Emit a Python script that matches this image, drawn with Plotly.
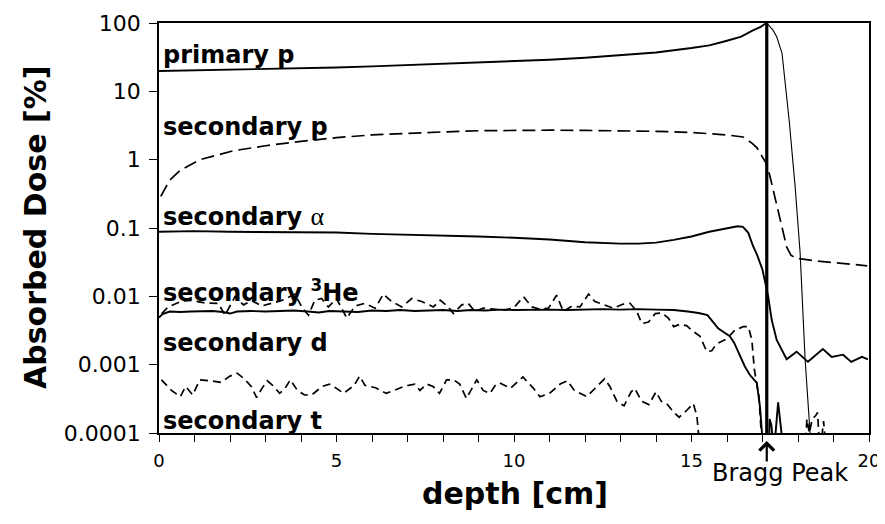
import math
import plotly.graph_objects as go

# ---------------- data ----------------
primary_x = [0.0, 0.5, 1, 2, 3, 4, 5, 6, 7, 8, 9, 10, 11, 12, 13, 14, 15, 15.5, 16.0, 16.4, 16.73, 16.95, 17.12]
primary_y = [19.8, 20.0, 20.2, 20.5, 21.0, 21.5, 22.3, 23.2, 24.2, 25.2, 26.3, 27.5, 29.0, 31.0, 33.5, 37.0, 43.0, 47.0, 55.0, 63.0, 78.0, 88.0, 100.0]
primary_fall_x = [17.12, 17.3, 17.4, 17.55, 17.75, 17.92, 18.06, 18.2, 18.34, 18.4]
primary_fall_y = [100.0, 78.0, 63.0, 36.0, 3.8, 0.4, 0.043, 0.0012, 0.0001, 0.00005]

sec_p_x = [0.05, 0.3, 0.6, 1.15, 2.1, 3.0, 4.0, 5.0, 6.0, 7.0, 8.0, 9.0, 10.0, 11.0, 12.0, 13.0, 14.0, 15.0,
           15.5, 16.0, 16.45, 16.7, 16.84, 17.0, 17.1, 17.2, 17.3, 17.4, 17.5, 17.6, 17.68, 17.8, 17.96,
           18.5, 19.0, 19.5, 19.95]
sec_p_y = [0.29, 0.5, 0.7, 1.0, 1.35, 1.6, 1.85, 2.1, 2.3, 2.45, 2.55, 2.65, 2.7, 2.7, 2.68, 2.65, 2.6, 2.5,
           2.42, 2.3, 2.15, 1.75, 1.5, 1.1, 0.89, 0.6, 0.36, 0.2, 0.13, 0.08, 0.053, 0.04, 0.036,
           0.033, 0.031, 0.029, 0.028]

alpha_x = [0.0, 1, 2, 3, 4, 5, 6, 7, 8, 9, 10, 11, 12, 12.5, 13, 13.5, 14, 14.5, 15, 15.5, 16.0, 16.3,
           16.45, 16.6, 16.73, 16.85, 17.0, 17.16, 17.26, 17.4, 17.68, 17.96, 18.28, 18.7, 18.95, 19.27,
           19.5, 19.8, 19.97]
alpha_y = [0.088, 0.09, 0.088, 0.087, 0.085, 0.086, 0.082, 0.08, 0.078, 0.075, 0.072, 0.068, 0.062, 0.06,
           0.059, 0.059, 0.061, 0.067, 0.075, 0.088, 0.1, 0.106, 0.104, 0.085, 0.055, 0.04, 0.0245, 0.01,
           0.0045, 0.0023, 0.0012, 0.00155, 0.0011, 0.0017, 0.0013, 0.0014, 0.0011, 0.0013, 0.0012]

he3_x = [0.075, 0.26, 0.64, 0.92, 1.3, 1.67, 1.86, 2.14, 2.38, 2.61, 2.89, 3.17, 3.46, 3.83, 4.02, 4.21,
         4.39, 4.58, 4.77, 5.0, 5.29, 5.52, 5.8, 6.09, 6.32, 6.55, 6.84, 7.12, 7.4, 7.73, 7.92, 8.15,
         8.29, 8.53, 8.71, 8.9, 9.13, 9.42, 9.7, 9.98, 10.27, 10.5, 10.73, 10.97, 11.2, 11.39, 11.63,
         11.86, 12.1, 12.28, 12.52, 12.8, 13.08, 13.27, 13.46, 13.6, 13.79, 13.98, 14.17, 14.35, 14.5,
         14.68, 14.87, 15.0, 15.24, 15.43, 15.57, 15.7, 16.0, 16.22, 16.46, 16.6, 16.7, 16.77, 16.9,
         16.98, 17.0, None, 18.2, 18.25, 18.32, 18.4, 18.5, 18.55, 18.62, 18.72, 18.8]
he3_y = [0.0056, 0.007, 0.0085, 0.0087, 0.008, 0.0079, 0.0053, 0.0099, 0.0075, 0.0087, 0.0072, 0.0079,
         0.0087, 0.0108, 0.007, 0.0053, 0.0088, 0.0093, 0.007, 0.0093, 0.0048, 0.0072, 0.0079, 0.0067,
         0.0108, 0.0084, 0.007, 0.0093, 0.0084, 0.007, 0.0088, 0.007, 0.0056, 0.0075, 0.0079, 0.006,
         0.0067, 0.0065, 0.0063, 0.0067, 0.0099, 0.007, 0.0065, 0.0067, 0.0104, 0.006, 0.0072, 0.007,
         0.0108, 0.0084, 0.0075, 0.0067, 0.0077, 0.0079, 0.006, 0.004, 0.0042, 0.0056, 0.0057, 0.0048,
         0.0036, 0.0039, 0.0037, 0.0032, 0.0026, 0.00155, 0.0016, 0.002, 0.0024, 0.0032, 0.0036, 0.0036,
         0.0023, 0.00085, 0.00034, 0.0001, 0.00005, None, 0.00005, 0.00016, 0.0001, 0.00016, 0.00018,
         0.0002, 0.00005, 0.00015, 0.00005]

d_x = [0.0, 0.1, 0.3, 0.6, 0.9, 1.2, 1.5, 1.8, 2.0, 2.2, 2.6, 3.0, 3.4, 3.8, 4.2, 4.5, 4.8, 5.2, 5.6, 6.0,
       6.4, 6.8, 7.2, 7.6, 8.0, 8.4, 8.8, 9.2, 9.6, 10.0, 10.5, 11.0, 11.5, 12.0, 12.5, 13.0, 13.5, 14.0,
       14.5, 14.9, 15.2, 15.45, 15.6, 15.75, 15.9, 16.08, 16.2, 16.37, 16.5, 16.65, 16.84, 16.93, 17.0,
       17.03, 17.18, 17.2, 17.25, 17.3, 17.32, 17.44, 17.6]
d_y = [0.0049, 0.0055, 0.006, 0.0059, 0.006, 0.006, 0.0061, 0.0059, 0.0056, 0.006, 0.0061, 0.006, 0.0061,
       0.0062, 0.006, 0.0058, 0.0061, 0.006, 0.0059, 0.0062, 0.0061, 0.0063, 0.0061, 0.0062, 0.0063,
       0.0061, 0.0063, 0.0062, 0.0064, 0.0063, 0.0064, 0.0064, 0.0063, 0.0064, 0.0065, 0.0064, 0.0065,
       0.0064, 0.0063, 0.006, 0.0057, 0.0053, 0.0042, 0.0034, 0.003, 0.0026, 0.0021, 0.0013, 0.00095,
       0.0007, 0.00054, 0.00024, 0.0001, 0.00005, 0.00005, 0.00016, 0.00013, 0.00005, 0.00005, 0.00028,
       0.00005]

t_x = [0.07, 0.35, 0.6, 0.75, 0.95, 1.15, 1.45, 1.75, 2.0, 2.2, 2.4, 2.6, 2.75, 2.9, 3.05, 3.2, 3.4, 3.55,
       3.7, 3.9, 4.1, 4.3, 4.6, 4.8, 5.0, 5.2, 5.5, 5.65, 5.8, 6.1, 6.4, 6.6, 6.9, 7.2, 7.35, 7.54, 7.72,
       7.9, 8.1, 8.3, 8.47, 8.66, 8.85, 8.95, 9.13, 9.32, 9.5, 9.6, 9.9, 10.25, 10.55, 10.73, 11.0, 11.3,
       11.5, 11.7, 12.05, 12.35, 12.55, 12.7, 12.9, 13.1, 13.3, 13.4, 13.6, 13.8, 14.0, 14.15, 14.3, 14.5,
       14.65, 14.85, 15.05, 15.15, 15.22, 15.25]
t_y = [0.0006, 0.00042, 0.00034, 0.00048, 0.00036, 0.0006, 0.00058, 0.00055, 0.00068, 0.00075, 0.00062,
       0.00048, 0.00033, 0.00045, 0.00058, 0.0005, 0.00038, 0.00045, 0.0006, 0.00042, 0.00036, 0.00036,
       0.00048, 0.00052, 0.00045, 0.00038, 0.0005, 0.00068, 0.0005, 0.00046, 0.00038, 0.00042, 0.00048,
       0.00052, 0.00042, 0.00052, 0.00048, 0.00038, 0.0006, 0.0006, 0.00052, 0.00032, 0.00048, 0.0006,
       0.00042, 0.00038, 0.00052, 0.00054, 0.00045, 0.00066, 0.00045, 0.00034, 0.00038, 0.00052,
       0.00058, 0.00042, 0.00034, 0.00048, 0.00062, 0.00048, 0.00029, 0.00025, 0.0004, 0.00045,
       0.00029, 0.00026, 0.0004, 0.00029, 0.00027, 0.0002, 0.00017, 0.00021, 0.00027, 0.00018, 0.00008,
       0.00005]

bragg_depth = 17.12
bragg_y = [100.0, 0.00005]

y_tickvals = [0.0001, 0.001, 0.01, 0.1, 1, 10, 100]
y_ticktext = ["0.0001", "0.001", "0.01", "0.1", "1", "10", "100"]
x_tickvals = [0, 5, 10, 15, 20]
x_ticktext = ["0", "5", "10", "15", "20"]

labels = ["primary p", "secondary p",
          'secondary <span style="font-family:Liberation Serif;font-weight:normal;font-size:26px">α</span>',
          "secondary <sup>3</sup>He", "secondary d", "secondary t"]
label_levels = [34.0, 3.0, 0.145, 0.012, 0.00208, 0.000152]

# ---------------- figure ----------------
# The page body has an 8px margin, so the figure is sized to fit the 885x524 window.
BOLD = "DejaVu Sans"
fig = go.Figure()

def line(x, y, width, dash="solid"):
    fig.add_trace(go.Scatter(x=x, y=y, mode="lines", connectgaps=False,
                             line=dict(color="black", width=width, dash=dash),
                             showlegend=False, hoverinfo="skip"))

line(primary_x, primary_y, 1.9)
line(primary_fall_x, primary_fall_y, 1.1)
line(sec_p_x, sec_p_y, 1.7, "13px,6px")
line(alpha_x, alpha_y, 1.9)
line(d_x, d_y, 1.9)
line(he3_x, he3_y, 1.7, "8px,5px")
line(t_x, t_y, 1.7, "8px,5px")
line([bragg_depth, bragg_depth], bragg_y, 3.2)

for txt, lvl in zip(labels, label_levels):
    fig.add_annotation(x=0, y=math.log10(lvl), xref="x", yref="y", xshift=2,
                       text=txt, showarrow=False, xanchor="left", yanchor="middle",
                       font=dict(family=BOLD, size=24, color="black", weight="bold"))

# Bragg peak arrow + label
fig.add_annotation(x=bragg_depth, y=0, xref="x", yref="paper", text="", showarrow=True,
                   axref="pixel", ayref="pixel", ax=0, ay=30, standoff=8,
                   arrowhead=4, arrowsize=1.3, arrowwidth=2.2, arrowcolor="black")
fig.add_annotation(x=(780 - 159) / 710, y=-0.097, xref="paper", yref="paper", text="Bragg Peak",
                   showarrow=False, xanchor="center", yanchor="middle",
                   font=dict(family="DejaVu Sans", size=24, color="black"))

# axis titles
fig.add_annotation(x=-0.175, y=0.502, xref="paper", yref="paper", text="Absorbed Dose [%]",
                   textangle=-90, showarrow=False, xanchor="center", yanchor="middle",
                   font=dict(family=BOLD, size=30, color="black", weight="bold"))
fig.add_annotation(x=0.501, y=-0.147, xref="paper", yref="paper", text="depth [cm]",
                   showarrow=False, xanchor="center", yanchor="middle",
                   font=dict(family=BOLD, size=30, color="black", weight="bold"))

fig.update_xaxes(range=[0, 20], tickvals=x_tickvals, ticktext=x_ticktext, automargin=False,
                 ticks="outside", ticklen=7, tickwidth=1.3, tickcolor="black",
                 minor=dict(dtick=1, ticks="outside", ticklen=7, tickwidth=1.3, tickcolor="black"),
                 showline=True, linecolor="black", linewidth=1.5, mirror=True,
                 showgrid=False, zeroline=False, ticklabelstandoff=4,
                 tickfont=dict(family="DejaVu Sans", size=18, color="black"))
fig.update_yaxes(type="log", range=[-4, 2], tickvals=y_tickvals, ticktext=y_ticktext, automargin=False,
                 ticks="outside", ticklen=8, tickwidth=1.3, tickcolor="black",
                 showline=True, linecolor="black", linewidth=1.5, mirror=True,
                 showgrid=False, zeroline=False, ticklabelstandoff=4,
                 tickfont=dict(family="DejaVu Sans", size=22, color="black"))

fig.update_layout(width=877, height=516, margin=dict(l=151, r=16, t=15, b=91),
                  plot_bgcolor="white", paper_bgcolor="white", showlegend=False)

fig.write_html("out.html")
